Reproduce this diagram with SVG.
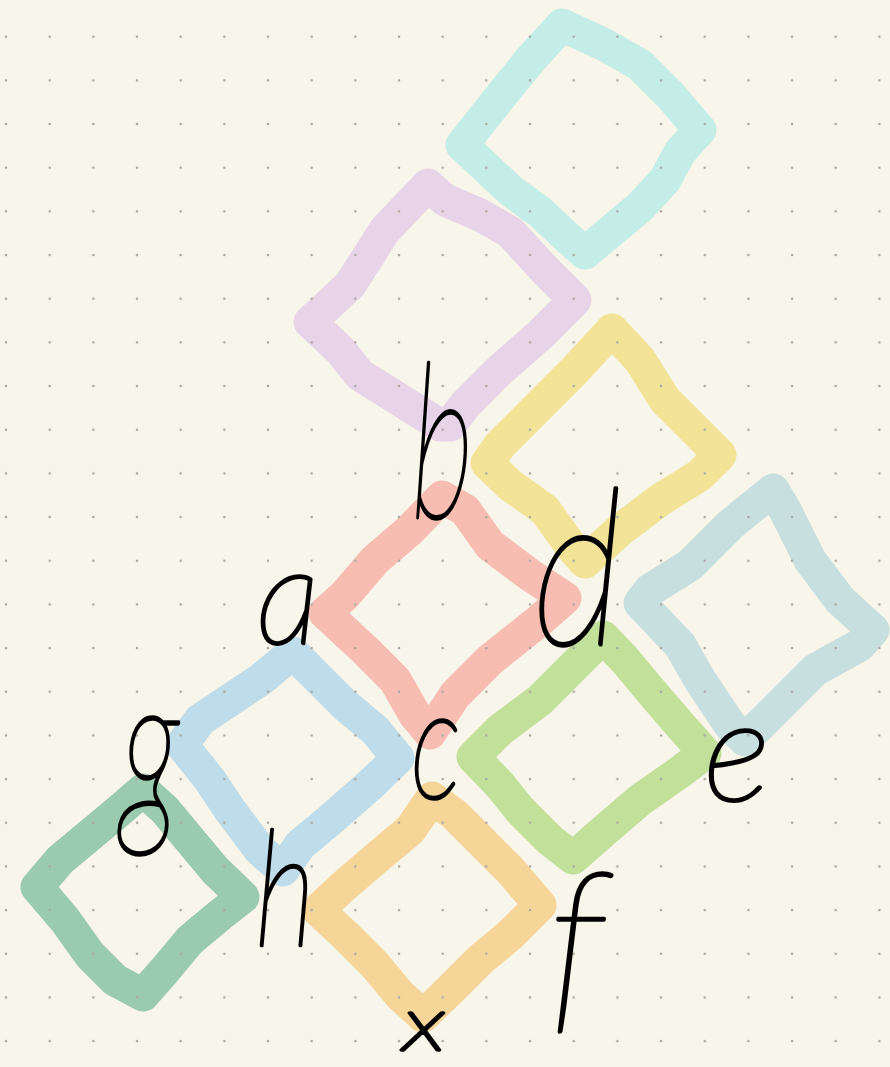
<svg xmlns="http://www.w3.org/2000/svg" width="890" height="1067" viewBox="0 0 890 1067">
<style>
.sq{fill:none;stroke-width:33;stroke-linecap:round;stroke-linejoin:round}
.lt{font-family:Lato,"Open Sans","DejaVu Sans",sans-serif;font-style:italic;font-weight:200;fill:#000;stroke:#000;stroke-width:3.5;stroke-linejoin:round;text-anchor:middle}
</style>
<defs>
<pattern id="dots" x="-15.835" y="14.865" width="43.67" height="43.67" patternUnits="userSpaceOnUse">
<circle cx="21.835" cy="21.835" r="1.3" fill="#a9a8a1"/>
</pattern>
</defs>
<rect width="890" height="1067" fill="#f8f5ea"/>
<g id="connectors"/>
<g id="sq-cyan"><path class="sq" stroke="#c3ede6" d="M562,25 L605,45 L640,65 L670,95 L700,130 L680,152 L665,180 L640,207 L585,253 L570,240 L540,212 L510,190 L462,145 L500,97 L530,60 Z"/></g>
<g id="sq-purple"><path class="sq" stroke="#e8d4e9" d="M428,185 L445,200 L480,215 L510,232 L545,270 L575,300 L540,335 L500,370 L465,405 L450,425 L440,425 L400,400 L360,375 L340,350 L310,322 L350,285 L385,230 Z"/></g>
<g id="sq-yellow"><path class="sq" stroke="#f3e397" d="M612,330 L640,360 L665,400 L690,425 L720,455 L700,475 L660,500 L620,530 L585,562 L570,545 L545,510 L510,485 L487,463 L500,445 L535,410 L575,370 Z"/></g>
<g id="sq-slate"><path class="sq" stroke="#c8dfdf" d="M773,490 L785,510 L810,560 L840,600 L873,630 L860,645 L815,670 L775,710 L745,740 L730,725 L700,680 L680,645 L640,603 L650,590 L690,565 L730,525 Z"/></g>
<g id="sq-pink"><path class="sq" stroke="#f7bdb3" d="M442,497 L465,510 L490,545 L530,575 L565,598 L540,620 L490,660 L455,695 L430,733 L415,715 L395,680 L365,650 L325,613 L345,595 L375,560 L410,530 Z"/></g>
<g id="sq-blue"><path class="sq" stroke="#bedce9" d="M293,653 L315,675 L345,705 L375,730 L398,758 L370,785 L330,820 L300,845 L283,870 L260,850 L230,810 L210,780 L182,745 L200,720 L230,700 L260,680 Z"/></g>
<g id="sq-green"><path class="sq" stroke="#c2e09a" d="M603,637 L625,660 L650,690 L680,725 L705,753 L680,772 L640,800 L605,830 L573,858 L550,840 L520,810 L500,785 L473,757 L500,730 L540,700 L575,665 Z"/></g>
<g id="sq-darkgreen"><path class="sq" stroke="#9bcbae" d="M143,790 L165,810 L190,840 L215,870 L243,897 L220,915 L190,940 L165,970 L143,995 L115,980 L90,955 L65,920 L37,887 L60,860 L90,835 L120,810 Z"/></g>
<g id="sq-orange"><path class="sq" stroke="#f6d598" d="M432,798 L455,815 L480,840 L510,870 L540,905 L510,935 L480,960 L450,990 L423,1016 L400,995 L375,965 L345,935 L318,910 L345,885 L380,855 L410,830 Z"/></g>
<rect width="890" height="1067" fill="url(#dots)"/>
<g id="labels">
<text id="lb-b" class="lt" x="442" y="518" font-size="215" textLength="62" lengthAdjust="spacingAndGlyphs">b</text>
<text id="lb-a" class="lt" x="288" y="643" font-size="137" textLength="62" lengthAdjust="spacingAndGlyphs">a</text>
<text id="lb-d" class="lt" x="578" y="645" font-size="218" textLength="90" lengthAdjust="spacingAndGlyphs">d</text>
<text id="lb-c" class="lt" x="436" y="798" font-size="157" textLength="50" lengthAdjust="spacingAndGlyphs">c</text>
<text id="lb-g" class="lt" x="150" y="817" font-size="200" textLength="58" lengthAdjust="spacingAndGlyphs">g</text>
<text id="lb-h" class="lt" x="285" y="945" font-size="160" textLength="60" lengthAdjust="spacingAndGlyphs">h</text>
<text id="lb-e" class="lt" x="737" y="800" font-size="142" textLength="66" lengthAdjust="spacingAndGlyphs">e</text>
<text id="lb-f" class="lt" x="577" y="1008" font-size="190">f</text>
<text id="lb-x" class="lt" x="424" y="1050" font-size="76" textLength="42" lengthAdjust="spacingAndGlyphs">x</text>
</g>
</svg>
